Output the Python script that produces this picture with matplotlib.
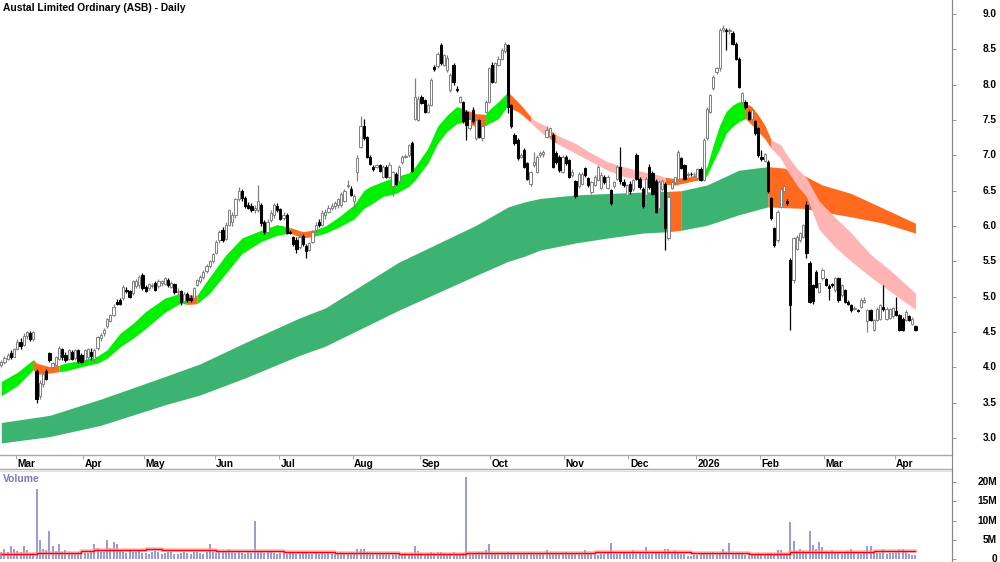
import numpy as np
import matplotlib
matplotlib.use('Agg')
import matplotlib.pyplot as plt
from matplotlib.lines import Line2D

plt.rcParams['font.family'] = ['Liberation Sans', 'DejaVu Sans']

title = 'Austal Limited Ordinary (ASB) - Daily'

# daily candles, 24 Feb 2025 .. 10 Apr 2026 (one entry per trading day)
opens = [
    4.03, 4.08, 4.12, 4.20, 4.15, 4.26, 4.36, 4.32, 4.45, 4.48,
    4.40, 3.95, 3.60, 3.76, 3.95, 4.20, 4.00, 4.04, 4.12, 4.26,
    4.18, 4.12, 4.22, 4.13, 4.25, 4.18, 4.10, 4.15, 4.22, 4.12,
    4.28, 4.42, 4.48, 4.58, 4.66, 4.74, 4.93, 4.95, 4.98, 5.10,
    5.08, 5.05, 5.15, 5.16, 5.30, 5.14, 5.12, 5.15, 5.20, 5.15,
    5.20, 5.18, 5.24, 5.14, 5.18, 5.06, 5.08, 4.94, 5.04, 4.98,
    4.98, 5.16, 5.22, 5.28, 5.36, 5.44, 5.50, 5.62, 5.80, 5.95,
    5.82, 6.02, 6.06, 6.15, 6.38, 6.50, 6.40, 6.30, 6.28, 6.22,
    6.22, 6.30, 6.05, 5.92, 6.08, 6.16, 6.28, 6.24, 6.12, 6.16,
    5.92, 5.84, 5.80, 5.70, 5.86, 5.72, 5.66, 5.78, 5.94, 6.06,
    6.02, 6.16, 6.20, 6.26, 6.28, 6.30, 6.30, 6.36, 6.56, 6.53,
    6.35, 6.76, 7.12, 7.41, 7.26, 6.98, 6.84, 6.84, 6.86, 6.70,
    6.84, 6.70, 6.56, 6.74, 6.63, 6.91, 6.98, 7.00, 7.17, 7.52,
    7.50, 7.83, 7.78, 7.62, 7.71, 8.25, 8.26, 8.56, 8.28, 8.21,
    7.93, 8.28, 7.94, 7.76, 7.75, 7.62, 7.38, 7.64, 7.24, 7.50,
    7.24, 7.62, 7.76, 8.28, 8.04, 8.28, 8.37, 8.47, 8.56, 7.71,
    7.29, 7.22, 6.98, 7.07, 6.89, 6.60, 6.86, 6.77, 7.00, 7.02,
    7.26, 7.28, 7.29, 7.03, 6.98, 6.77, 6.98, 6.93, 6.72, 6.63,
    6.56, 6.60, 6.82, 6.68, 6.48, 6.58, 6.65, 6.54, 6.70, 6.54,
    6.51, 6.56, 6.67, 6.84, 6.62, 6.44, 6.60, 6.53, 7.00, 6.67,
    6.53, 6.44, 6.84, 6.75, 6.63, 6.25, 6.52, 6.60, 5.83, 6.54,
    6.62, 6.67, 6.96, 6.86, 6.72, 6.74, 6.73, 6.68, 6.81, 6.65,
    7.24, 7.62, 7.95, 8.18, 8.23, 8.78, 8.78, 8.76, 8.73, 8.58,
    8.37, 7.76, 7.76, 7.62, 7.52, 7.48, 7.38, 6.98, 6.92, 6.91,
    6.39, 5.97, 5.80, 6.27, 6.50, 6.36, 5.52, 5.24, 5.68, 5.80,
    5.85, 6.30, 5.47, 5.16, 5.35, 5.07, 5.26, 5.25, 5.15, 5.18,
    5.09, 5.26, 5.02, 5.09, 4.93, 4.88, 4.83, 4.81, 4.86, 4.93,
    4.65, 4.81, 4.53, 4.67, 4.69, 4.85, 4.69, 4.70, 4.72, 4.80,
    4.74, 4.69, 4.67, 4.72, 4.62, 4.58]
highs = [
    4.10, 4.16, 4.20, 4.25, 4.28, 4.40, 4.42, 4.48, 4.52, 4.52,
    4.52, 3.98, 3.82, 3.93, 3.97, 4.22, 4.08, 4.16, 4.30, 4.28,
    4.22, 4.26, 4.24, 4.26, 4.26, 4.20, 4.26, 4.28, 4.27, 4.28,
    4.45, 4.48, 4.55, 4.70, 4.76, 4.89, 4.97, 4.98, 5.16, 5.14,
    5.10, 5.24, 5.25, 5.31, 5.34, 5.16, 5.20, 5.20, 5.22, 5.25,
    5.24, 5.28, 5.26, 5.22, 5.20, 5.12, 5.10, 5.07, 5.06, 5.02,
    5.14, 5.25, 5.30, 5.38, 5.46, 5.52, 5.62, 5.80, 5.94, 5.98,
    6.05, 6.24, 6.20, 6.40, 6.55, 6.52, 6.42, 6.34, 6.32, 6.30,
    6.58, 6.32, 6.08, 6.10, 6.22, 6.32, 6.32, 6.26, 6.20, 6.18,
    5.95, 5.86, 5.84, 5.88, 5.88, 5.74, 5.78, 5.95, 6.05, 6.10,
    6.22, 6.24, 6.30, 6.32, 6.36, 6.40, 6.48, 6.52, 6.65, 6.56,
    6.46, 7.00, 7.55, 7.52, 7.28, 7.00, 6.86, 6.88, 6.88, 6.86,
    6.86, 6.90, 6.78, 6.76, 6.86, 7.00, 7.02, 7.16, 7.20, 8.09,
    7.84, 7.86, 7.80, 7.74, 8.10, 8.28, 8.46, 8.59, 8.44, 8.42,
    8.16, 8.30, 7.98, 7.84, 7.77, 7.64, 7.54, 7.68, 7.52, 7.52,
    7.43, 7.78, 8.25, 8.32, 8.32, 8.40, 8.52, 8.61, 8.58, 7.73,
    7.31, 7.24, 7.04, 7.10, 6.91, 6.78, 7.05, 7.00, 7.06, 7.08,
    7.41, 7.40, 7.32, 7.06, 7.00, 7.00, 7.00, 6.95, 6.80, 6.65,
    6.76, 6.76, 6.84, 6.70, 6.64, 6.72, 6.86, 6.76, 6.72, 6.72,
    6.53, 6.64, 6.86, 7.12, 6.66, 6.60, 6.64, 6.67, 7.03, 6.70,
    6.55, 6.69, 6.88, 6.78, 6.66, 6.65, 6.66, 6.62, 6.43, 6.65,
    6.70, 7.08, 6.98, 6.88, 6.76, 6.77, 6.76, 6.82, 6.83, 7.24,
    7.68, 7.87, 8.14, 8.25, 8.80, 8.84, 8.80, 8.80, 8.76, 8.60,
    8.39, 7.90, 7.78, 7.64, 7.66, 7.50, 7.40, 7.08, 7.04, 6.93,
    6.41, 5.99, 6.22, 6.55, 6.58, 6.38, 5.55, 5.85, 5.87, 5.92,
    6.03, 6.35, 5.50, 5.18, 5.38, 5.20, 5.40, 5.27, 5.18, 5.20,
    5.28, 5.28, 5.18, 5.11, 4.95, 4.90, 4.87, 4.83, 4.98, 4.99,
    4.83, 4.83, 4.69, 4.85, 4.90, 5.16, 4.85, 4.84, 4.86, 5.00,
    4.76, 4.71, 4.81, 4.74, 4.71, 4.60]
lows = [
    4.00, 4.05, 4.10, 4.12, 4.14, 4.24, 4.26, 4.30, 4.40, 4.38,
    4.38, 3.50, 3.55, 3.72, 3.82, 4.08, 3.98, 4.02, 4.10, 4.10,
    4.08, 4.10, 4.10, 4.11, 4.06, 4.06, 4.08, 4.12, 4.10, 4.08,
    4.25, 4.38, 4.45, 4.56, 4.64, 4.72, 4.88, 4.88, 4.96, 5.05,
    4.98, 5.02, 5.12, 5.13, 5.10, 5.06, 5.10, 5.12, 5.08, 5.13,
    5.15, 5.16, 5.14, 5.12, 5.04, 5.02, 4.88, 4.92, 4.93, 4.92,
    4.96, 5.15, 5.20, 5.25, 5.34, 5.40, 5.48, 5.60, 5.76, 5.78,
    5.80, 6.00, 6.00, 6.12, 6.36, 6.36, 6.25, 6.24, 6.20, 6.18,
    6.20, 6.00, 5.88, 5.90, 6.05, 6.12, 6.20, 6.08, 6.08, 5.88,
    5.88, 5.72, 5.62, 5.68, 5.72, 5.55, 5.64, 5.76, 5.92, 5.98,
    6.00, 6.10, 6.18, 6.22, 6.24, 6.26, 6.27, 6.34, 6.54, 6.42,
    6.25, 6.63, 7.10, 7.22, 6.96, 6.86, 6.78, 6.82, 6.76, 6.68,
    6.68, 6.68, 6.42, 6.58, 6.61, 6.88, 6.96, 6.98, 6.76, 7.50,
    7.48, 7.72, 7.60, 7.60, 7.70, 8.20, 8.24, 8.28, 8.26, 8.18,
    7.90, 7.99, 7.90, 7.74, 7.46, 7.22, 7.36, 7.46, 7.22, 7.24,
    7.20, 7.60, 7.74, 8.02, 8.02, 8.26, 8.35, 8.45, 7.60, 7.38,
    7.15, 6.94, 6.96, 6.82, 6.65, 6.56, 6.84, 6.75, 6.98, 6.98,
    7.24, 7.26, 6.82, 6.88, 6.77, 6.75, 6.86, 6.68, 6.70, 6.40,
    6.54, 6.58, 6.70, 6.55, 6.46, 6.56, 6.63, 6.52, 6.60, 6.52,
    6.30, 6.54, 6.65, 6.60, 6.55, 6.42, 6.46, 6.50, 6.65, 6.52,
    6.25, 6.42, 6.52, 6.44, 6.18, 6.22, 6.50, 5.66, 5.80, 6.52,
    6.60, 6.65, 6.80, 6.65, 6.70, 6.71, 6.70, 6.66, 6.63, 6.63,
    7.22, 7.60, 7.93, 8.15, 8.20, 8.74, 8.49, 8.72, 8.56, 8.35,
    7.95, 7.74, 7.66, 7.50, 7.50, 7.29, 6.98, 6.92, 6.90, 6.47,
    6.09, 5.70, 5.78, 6.25, 6.48, 6.30, 4.53, 5.20, 5.66, 5.78,
    5.83, 5.55, 4.91, 4.90, 5.12, 5.05, 5.24, 5.15, 4.95, 5.14,
    5.07, 4.93, 5.00, 4.91, 4.88, 4.79, 4.81, 4.78, 4.84, 4.91,
    4.50, 4.65, 4.51, 4.65, 4.67, 4.80, 4.67, 4.68, 4.70, 4.72,
    4.51, 4.51, 4.65, 4.65, 4.60, 4.52]
closes = [
    4.08, 4.13, 4.18, 4.15, 4.26, 4.36, 4.30, 4.45, 4.50, 4.40,
    4.50, 3.55, 3.78, 3.90, 3.84, 4.10, 4.06, 4.14, 4.27, 4.14,
    4.10, 4.24, 4.12, 4.24, 4.09, 4.08, 4.24, 4.26, 4.16, 4.25,
    4.43, 4.46, 4.53, 4.68, 4.74, 4.86, 4.90, 4.90, 5.14, 5.08,
    5.00, 5.22, 5.22, 5.28, 5.12, 5.08, 5.18, 5.16, 5.10, 5.22,
    5.22, 5.26, 5.16, 5.20, 5.06, 5.08, 4.92, 5.04, 4.95, 4.95,
    5.12, 5.23, 5.28, 5.35, 5.44, 5.50, 5.60, 5.78, 5.92, 5.80,
    6.02, 6.22, 6.16, 6.38, 6.50, 6.40, 6.28, 6.26, 6.22, 6.25,
    6.35, 6.04, 5.92, 6.06, 6.18, 6.30, 6.22, 6.10, 6.16, 5.90,
    5.90, 5.74, 5.68, 5.85, 5.75, 5.65, 5.76, 5.92, 6.02, 6.02,
    6.18, 6.20, 6.26, 6.28, 6.32, 6.38, 6.46, 6.50, 6.58, 6.44,
    6.42, 6.96, 7.41, 7.24, 6.98, 6.88, 6.80, 6.86, 6.78, 6.84,
    6.70, 6.86, 6.76, 6.60, 6.84, 6.98, 6.99, 7.15, 6.78, 7.83,
    7.80, 7.74, 7.62, 7.71, 8.07, 8.22, 8.44, 8.30, 8.42, 8.38,
    8.14, 8.04, 7.93, 7.83, 7.48, 7.43, 7.52, 7.48, 7.50, 7.26,
    7.41, 7.76, 8.23, 8.04, 8.30, 8.37, 8.49, 8.58, 7.69, 7.41,
    7.17, 6.96, 7.01, 6.84, 6.67, 6.77, 6.90, 6.98, 7.04, 7.05,
    7.36, 7.38, 6.84, 6.91, 6.79, 6.98, 6.89, 6.70, 6.77, 6.42,
    6.74, 6.74, 6.72, 6.58, 6.62, 6.70, 6.84, 6.72, 6.62, 6.70,
    6.32, 6.62, 6.84, 6.63, 6.58, 6.58, 6.50, 6.65, 6.67, 6.55,
    6.28, 6.66, 6.55, 6.46, 6.20, 6.62, 6.64, 5.97, 6.41, 6.62,
    6.69, 7.05, 6.82, 6.67, 6.74, 6.73, 6.74, 6.80, 6.65, 7.22,
    7.66, 7.85, 8.11, 8.23, 8.77, 8.80, 8.76, 8.77, 8.58, 8.37,
    7.97, 7.88, 7.69, 7.52, 7.64, 7.31, 7.00, 6.95, 7.02, 6.49,
    6.11, 5.73, 6.20, 6.53, 6.56, 6.33, 4.88, 5.83, 5.85, 5.90,
    6.01, 5.62, 4.93, 4.94, 5.14, 5.19, 5.38, 5.17, 5.13, 5.16,
    5.26, 4.95, 5.17, 4.93, 4.90, 4.81, 4.84, 4.80, 4.95, 4.96,
    4.81, 4.67, 4.67, 4.83, 4.88, 4.82, 4.83, 4.82, 4.84, 4.74,
    4.53, 4.53, 4.79, 4.67, 4.69, 4.53]

# volume in millions
volume = [
    1.9, 2.7, 1.9, 3.5, 2.5, 2.1, 1.8, 3.3, 2.3, 1.5, 1.5,
    18.1, 4.9, 2.7, 2.3, 7.3, 3.5, 2.1, 3.8, 1.9, 2.3,
    1.6, 1.8, 1.5, 1.7, 1.9, 1.6, 1.5, 2.0, 4.0, 2.9,
    1.8, 1.7, 4.9, 2.9, 4.5, 3.9, 2.2, 1.8, 1.6, 2.0,
    1.7, 1.9, 2.1, 1.6, 1.5, 1.4, 1.7, 2.0, 1.8, 1.3,
    1.5, 1.9, 1.7, 1.4, 1.2, 1.6, 1.8, 1.5, 1.3, 1.7,
    1.9, 1.6, 1.4, 1.8, 4.0, 1.7, 1.6, 1.9, 2.2, 1.8,
    2.6, 1.7, 1.5, 1.8, 1.6, 1.4, 1.7, 1.5, 9.8, 1.9,
    1.8, 1.6, 2.0, 1.7, 1.5, 1.4, 1.6, 1.8, 1.3, 1.5,
    1.6, 1.4, 1.2, 1.5, 1.7, 1.3, 1.4, 1.6, 1.2, 1.5,
    1.3, 1.6, 1.4, 1.2, 1.5, 1.7, 1.3, 1.4, 1.6, 1.5,
    2.5, 2.6, 2.5, 1.8, 1.6, 1.4, 1.3, 1.2, 1.4, 1.5,
    1.3, 1.6, 1.2, 1.4, 1.3, 1.5, 1.4, 1.6, 3.3, 2.0,
    1.5, 1.4, 1.6, 1.8, 1.5, 1.7, 1.9, 1.6, 1.4, 1.5,
    1.8, 1.4, 1.3, 1.6, 21.2, 1.5, 1.4, 1.6, 1.8, 1.7,
    2.3, 4.0, 1.6, 1.5, 1.4, 1.3, 1.5, 1.7, 1.4, 1.6,
    1.3, 1.5, 1.2, 1.4, 1.6, 1.3, 1.2, 1.4, 1.3, 2.3,
    1.4, 1.5, 1.3, 1.2, 1.4, 1.8, 1.3, 1.2, 1.4, 1.5,
    1.3, 2.3, 1.4, 1.2, 1.3, 1.1, 1.4, 1.3, 1.5, 4.2,
    1.4, 1.2, 1.3, 1.5, 1.2, 1.4, 2.3, 1.3, 1.6, 1.4,
    3.2, 1.4, 1.3, 1.5, 1.6, 1.4, 2.7, 2.6, 1.4, 2.4,
    1.5, 1.3, 1.2, 0.9, 0.8, 1.0, 1.1, 1.3, 1.5, 1.4,
    1.6, 1.9, 1.4, 1.5, 2.6, 1.8, 4.2, 1.6, 1.4, 1.3,
    1.2, 1.1, 1.4, 1.3, 1.2, 1.5, 1.3, 1.4, 1.6, 1.5,
    1.4, 2.3, 2.4, 1.6, 1.5, 9.7, 4.7, 2.2, 2.5, 2.2,
    1.9, 7.2, 3.6, 2.7, 4.5, 3.0, 2.2, 1.8, 2.3, 1.6,
    1.5, 1.4, 1.7, 2.0, 2.7, 1.6, 1.5, 1.3, 1.8, 3.3,
    3.3, 1.7, 1.5, 1.6, 2.7, 1.4, 1.6, 1.5, 1.7, 2.5,
    2.5, 1.9, 1.2, 1.0, 1.1]

# volume average (stepped), day index where each level starts
vol_avg_idx = [0, 11, 25, 29, 45, 50, 67, 75, 80, 88, 104, 124, 141, 145, 185, 215, 233, 246, 272, 285]
vol_avg = [1.3, 1.6, 2.1, 2.3, 2.6, 2.4, 2.2, 2.0, 2.1, 1.9, 1.6, 1.4, 1.3, 1.6, 1.9, 1.5, 1.4, 1.7, 2.2, 2.2]

# short-term ribbon edges (G green, O orange, P pink for each stretch)
fast_idx = [0, 5, 10, 11, 15, 18, 20, 25, 30, 33, 37, 41, 45, 51, 56, 58, 61, 65, 70, 75,
            81, 86, 90, 94, 98, 101, 105, 110, 113, 115, 119, 123, 127, 129, 133, 136, 139, 142, 144, 148,
            151, 152, 155, 158, 159, 161, 163, 165, 166, 170, 171, 173, 179, 184, 189, 194, 200, 205, 207, 210,
            215, 219, 220, 222, 224, 226, 228, 230, 232, 234, 236, 238, 240, 243, 245, 248, 251, 255, 260, 265,
            271, 277, 285]
fast_top = [3.80, 3.93, 4.11, 4.06, 4.01, 4.03, 4.06, 4.10, 4.16, 4.25, 4.48, 4.62, 4.79, 4.98, 5.05, 5.03, 5.02, 5.28, 5.59, 5.83,
            5.94, 6.02, 5.98, 5.92, 5.95, 6.00, 6.12, 6.30, 6.50, 6.56, 6.63, 6.70, 6.75, 6.84, 7.10, 7.41, 7.57, 7.69, 7.66, 7.59,
            7.58, 7.64, 7.76, 7.90, 7.85, 7.76, 7.66, 7.55, 7.50, 7.41, 7.36, 7.29, 7.17, 7.03, 6.91, 6.84, 6.77, 6.72, 6.69, 6.67,
            6.70, 6.77, 6.84, 7.15, 7.43, 7.62, 7.71, 7.76, 7.74, 7.69, 7.57, 7.43, 7.22, 7.15, 7.00, 6.82, 6.68, 6.35, 6.12, 5.90,
            5.60, 5.38, 5.05]
fast_bot = [3.60, 3.74, 3.97, 3.90, 3.92, 3.94, 3.95, 4.01, 4.06, 4.13, 4.29, 4.41, 4.55, 4.78, 4.91, 4.89, 4.90, 5.05, 5.33, 5.61,
            5.78, 5.87, 5.90, 5.83, 5.86, 5.90, 5.98, 6.10, 6.25, 6.30, 6.42, 6.46, 6.56, 6.65, 6.89, 7.17, 7.34, 7.45, 7.47, 7.41,
            7.42, 7.45, 7.52, 7.71, 7.66, 7.62, 7.55, 7.47, 7.42, 7.26, 7.24, 7.17, 7.03, 6.91, 6.79, 6.70, 6.65, 6.60, 6.59, 6.58,
            6.63, 6.67, 6.72, 6.91, 7.10, 7.31, 7.41, 7.48, 7.52, 7.43, 7.33, 7.24, 7.10, 6.96, 6.79, 6.58, 6.42, 5.95, 5.70, 5.50,
            5.28, 5.08, 4.82]
fast_col = ('GGOOOGGGGG' 'GGGGGOGGGG' 'GGOOGGGGGG' 'GGGGGGGGOO' 'GGGOOOOPPP'
            'OPPPPPPPOO' 'OGGGGGGGOO' 'OOPPPPPPPP' 'PP')

# long-term ribbon edges
slow_idx = [0, 15, 31, 51, 62, 76, 93, 101, 124, 148, 158, 163, 168, 179, 189, 200, 208, 212, 220, 230,
            239, 244, 250, 256, 265, 275, 285]
slow_top = [3.22, 3.32, 3.55, 3.87, 4.05, 4.35, 4.70, 4.84, 5.49, 6.01, 6.27, 6.34, 6.39, 6.44, 6.46, 6.48, 6.49, 6.50, 6.58, 6.79,
            6.84, 6.82, 6.72, 6.58, 6.46, 6.25, 6.04]
slow_bot = [2.93, 3.02, 3.18, 3.47, 3.61, 3.85, 4.17, 4.30, 4.81, 5.30, 5.50, 5.57, 5.66, 5.76, 5.83, 5.90, 5.92, 5.94, 6.01, 6.16,
            6.27, 6.26, 6.25, 6.20, 6.13, 6.04, 5.90]
slow_col = 'G' * 16 + 'O' + 'GGG' + 'OOOOOO'

month_pos = [5, 26, 45, 67, 87, 110, 131, 153, 176, 196, 217, 237, 257, 279]
month_lab = ['Mar', 'Apr', 'May', 'Jun', 'Jul', 'Aug', 'Sep', 'Oct', 'Nov', 'Dec', '2026', 'Feb', 'Mar', 'Apr']

price_ticks = [3.0, 3.5, 4.0, 4.5, 5.0, 5.5, 6.0, 6.5, 7.0, 7.5, 8.0, 8.5, 9.0]
vol_ticks = [0, 5, 10, 15, 20]
vol_tick_lab = ['0', '5M', '10M', '15M', '20M']

fast_colors = {'G': '#00f000', 'O': '#ff6a1f', 'P': '#ffb4b4'}
slow_colors = {'G': '#3cb371', 'O': '#ff6a1f'}

W, H = 1000, 562
XL = (-0.4, 296.4)
GRID = '#a8a8a8'


def box(l, t, r, b):
    return [l / W, 1 - b / H, (r - l) / W, (b - t) / H]


def ribbon(ax, idx, top, bot, cols, cmap, z):
    idx = np.array(idx); top = np.array(top); bot = np.array(bot)
    s = 0
    for k in range(1, len(cols) + 1):
        if k == len(cols) or cols[k] != cols[s]:
            sl = slice(s, k + 1)
            ax.fill_between(idx[sl], top[sl], bot[sl], color=cmap[cols[s]], lw=0, zorder=z)
            s = k


fig = plt.figure(figsize=(W / 100, H / 100), dpi=100)
ax = fig.add_axes(box(0, 0, 952, 455))
axd = fig.add_axes(box(0, 455, 952, 469))
axv = fig.add_axes(box(0, 471, 952, 562))

o = np.array(opens); h = np.array(highs); l = np.array(lows); c = np.array(closes)
x = np.arange(len(c))
up = c >= o

ribbon(ax, slow_idx, slow_top, slow_bot, slow_col, slow_colors, 1)
ribbon(ax, fast_idx, fast_top, fast_bot, fast_col, fast_colors, 2)

ax.vlines(x[up], l[up], h[up], color='#808080', lw=0.9, zorder=3)
ax.vlines(x[~up], l[~up], h[~up], color='black', lw=0.9, zorder=3)
blo = np.minimum(o, c); bh = np.abs(c - o)
ax.bar(x[up], bh[up], 0.7, bottom=blo[up], facecolor='white', edgecolor='#808080', lw=0.7, zorder=4)
ax.bar(x[~up], bh[~up], 0.7, bottom=blo[~up], facecolor='black', edgecolor='black', lw=0.7, zorder=4)

ax.set_xlim(*XL)
ax.set_ylim(2.76, 9.198)
ax.set_xticks([])
ax.yaxis.tick_right()
ax.set_yticks(price_ticks)
ax.tick_params(axis='y', length=3, width=0.6, color='#888888', labelright=False, labelleft=False)
for s in ['left', 'top', 'bottom']:
    ax.spines[s].set_visible(False)
ax.spines['right'].set_color('#888888')
ax.spines['right'].set_linewidth(0.8)
for p in price_ticks:
    ax.text(997 / 952, p, '%.1f' % p, transform=ax.get_yaxis_transform(), ha='right', va='center',
            fontsize=7.3, fontweight='bold', clip_on=False)
ax.text(3 / 952, 1 - 3 / 455, title, transform=ax.transAxes, ha='left', va='top',
        fontsize=7.4, fontweight='bold')

# date strip
axd.set_xlim(*XL)
axd.set_ylim(0, 1)
axd.set_xticks([]); axd.set_yticks([])
for s in ['left', 'right']:
    axd.spines[s].set_visible(False)
for s in ['top', 'bottom']:
    axd.spines[s].set_color(GRID)
    axd.spines[s].set_linewidth(1.0)
axd.vlines(np.array(month_pos) - 0.5, 0.72, 1, color=GRID, lw=0.8)
for p, t in zip(month_pos, month_lab):
    axd.text(p, 0.38, t, ha='left', va='center', fontsize=7.3, fontweight='bold')

# volume
vol = np.array(volume)
axv.vlines(x, 0, vol, color='#8888d0', lw=1.2, zorder=2)
axv.step(vol_avg_idx, vol_avg, where='post', color='#ff9a9a', lw=2.6, alpha=0.7, zorder=3)
axv.step(vol_avg_idx, vol_avg, where='post', color='red', lw=1.0, zorder=4)
axv.set_xlim(*XL)
axv.set_ylim(-0.78, 22.86)
axv.set_xticks([])
axv.yaxis.tick_right()
axv.set_yticks(vol_ticks)
axv.tick_params(axis='y', length=3, width=0.6, color='#888888', labelright=False, labelleft=False)
for s in ['left', 'bottom']:
    axv.spines[s].set_visible(False)
axv.spines['top'].set_color('#dddddd')
axv.spines['right'].set_color('#888888')
axv.spines['right'].set_linewidth(0.8)
for v, t in zip(vol_ticks, vol_tick_lab):
    axv.text(997 / 952, v, t, transform=axv.get_yaxis_transform(), ha='right', va='center',
             fontsize=7.3, fontweight='bold', clip_on=False)
axv.text(3 / 952, 1 - 3 / 91, 'Volume', transform=axv.transAxes, ha='left', va='top',
         fontsize=7.4, fontweight='bold', color='#7878c0')

fig.add_artist(Line2D([952 / W, 952 / W], [0, 1], color='#888888', lw=0.8))

fig.savefig('out.png', dpi=100, facecolor='white')
